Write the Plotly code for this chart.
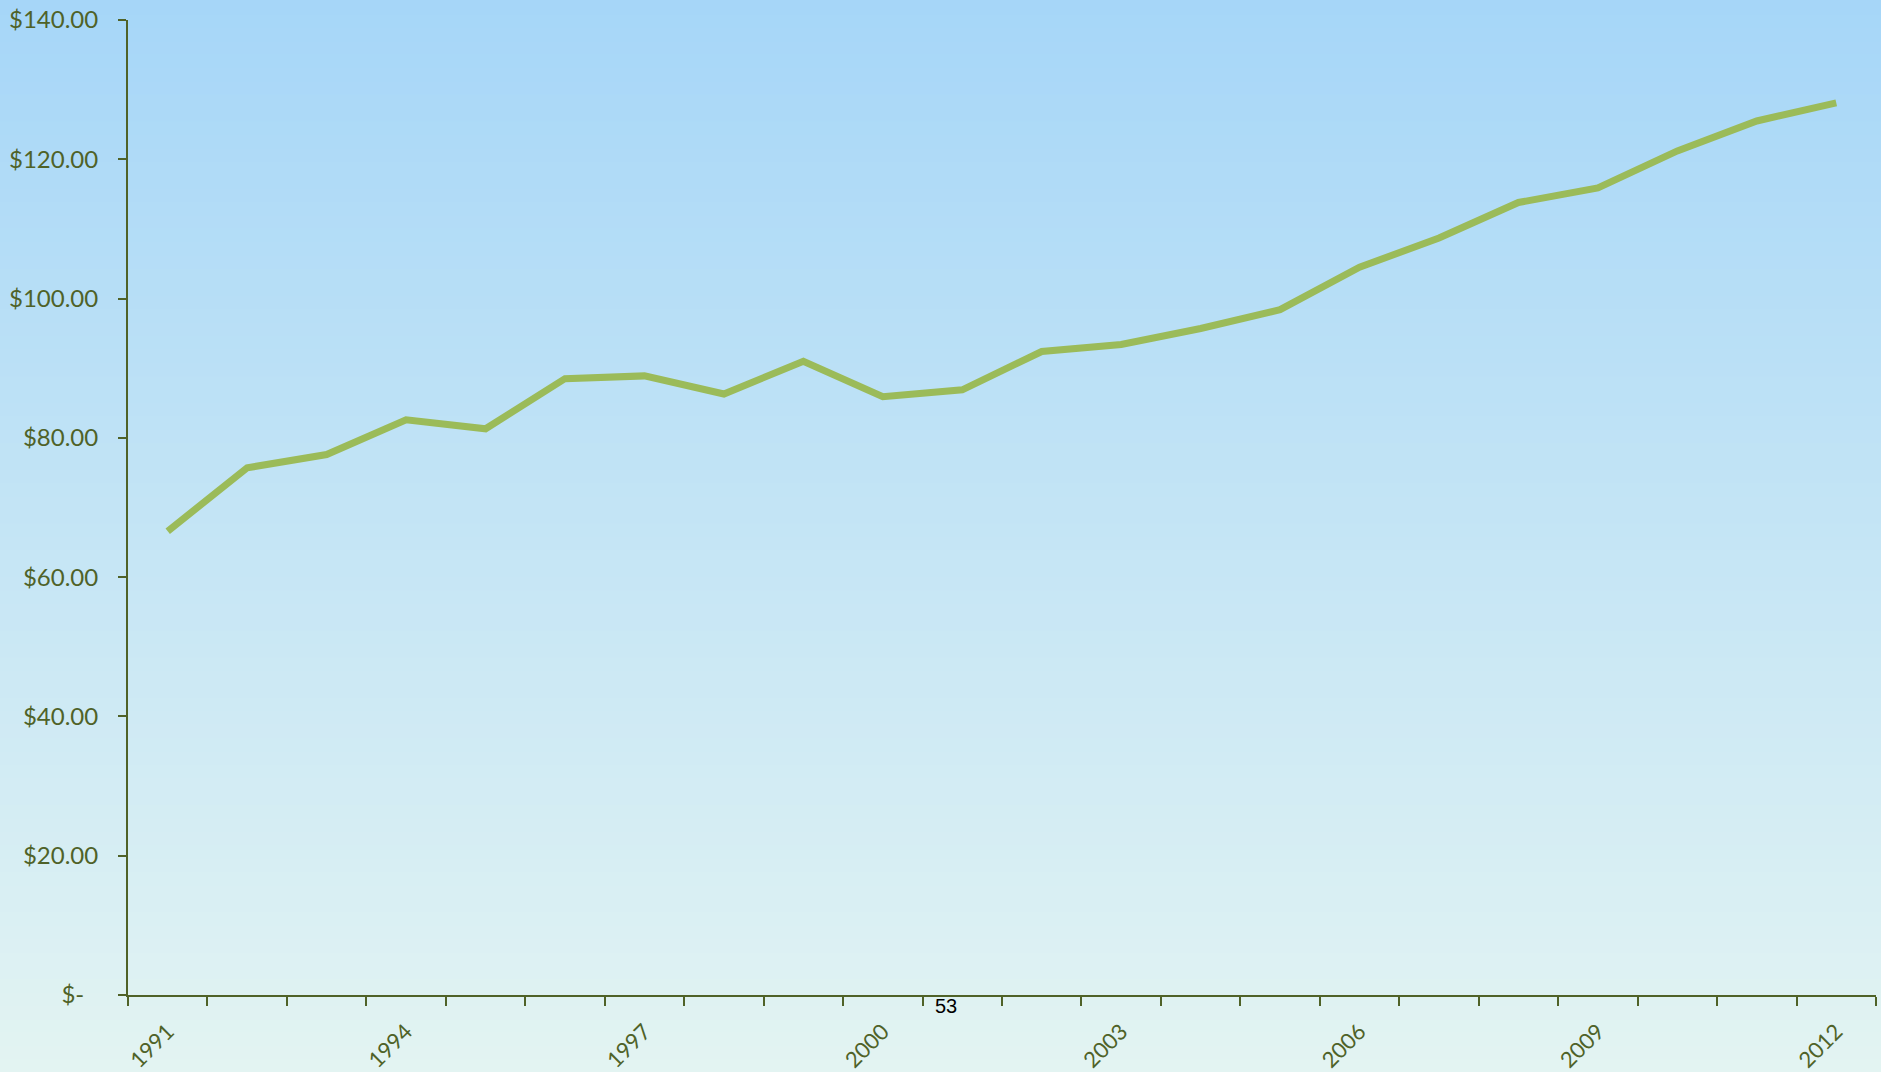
import plotly.graph_objects as go

years = list(range(1991, 2013))
prices = [66.6, 75.7, 77.6, 82.6, 81.3, 88.5, 88.9, 86.3, 91.0, 85.9, 86.9,
          92.4, 93.4, 95.7, 98.4, 104.5, 108.7, 113.8, 115.9, 121.2, 125.5, 128.1]
x_tick_years = [1991, 1994, 1997, 2000, 2003, 2006, 2009, 2012]
y_tick_vals = [0, 20, 40, 60, 80, 100, 120, 140]
y_tick_text = ["$-\u2007", "$20.00", "$40.00", "$60.00", "$80.00", "$100.00", "$120.00", "$140.00"]
page_number = "53"

W, H = 1881, 1072
ML, MR, MT, MB = 128, 5, 20, 77
axis_col = "#4F6228"
line_col = "#9BBB59"

fig = go.Figure()
fig.add_trace(go.Scatter(x=years, y=prices, mode="lines",
                         line=dict(color=line_col, width=7), hoverinfo="skip"))

# vertical gradient background (bands in paper coords covering whole figure)
plot_h = H - MT - MB
y_bottom = -MB / plot_h
y_top = 1 + MT / plot_h
top_rgb = (166, 214, 248)
bot_rgb = (227, 244, 242)
n = 80
shapes = []
for i in range(n):
    f0 = i / n
    f1 = (i + 1) / n
    t = (f0 + f1) / 2
    c = tuple(round(bot_rgb[k] + (top_rgb[k] - bot_rgb[k]) * t) for k in range(3))
    shapes.append(dict(type="rect", xref="paper", yref="paper",
                       x0=-ML / (W - ML - MR) - 0.01, x1=1 + MR / (W - ML - MR) + 0.01,
                       y0=y_bottom + (y_top - y_bottom) * f0 - 0.001,
                       y1=y_bottom + (y_top - y_bottom) * f1 + 0.001,
                       fillcolor="rgb(%d,%d,%d)" % c, line=dict(width=0), layer="below"))

fig.update_layout(
    width=W, height=H,
    margin=dict(l=ML, r=MR, t=MT, b=MB, autoexpand=False),
    paper_bgcolor="rgba(0,0,0,0)", plot_bgcolor="rgba(0,0,0,0)",
    showlegend=False, shapes=shapes,
    font=dict(family="Lato, 'Open Sans', sans-serif", color=axis_col),
    annotations=[dict(text=page_number, xref="paper", yref="paper",
                      x=(945.5 - ML) / (W - ML - MR), y=-11.5 / plot_h,
                      xanchor="center", yanchor="middle", showarrow=False,
                      font=dict(family="Liberation Sans, Arial", size=20, color="#000000"))],
)
fig.update_xaxes(
    range=[1990.5, 2012.5], tickmode="array", tickvals=x_tick_years,
    ticktext=[str(y) for y in x_tick_years], tickangle=-45,
    ticks="", showgrid=False, zeroline=False, automargin=False,
    showline=True, linecolor=axis_col, linewidth=2,
    tickfont=dict(size=22, color=axis_col), ticklabelstandoff=13,
    minor=dict(ticks="outside", ticklen=9, tickwidth=2, tickcolor=axis_col,
               tick0=1990.5, dtick=1, showgrid=False),
)
fig.update_yaxes(
    range=[0, 140], tickmode="array", tickvals=y_tick_vals, ticktext=y_tick_text,
    ticks="outside", ticklen=8, tickwidth=2, tickcolor=axis_col, automargin=False,
    showgrid=False, zeroline=False, showline=True, linecolor=axis_col, linewidth=2,
    tickfont=dict(size=24, color=axis_col), ticklabelstandoff=15,
)

fig.write_html("out.html", config={"displayModeBar": False},
               post_script="document.body.style.margin='0';document.body.style.overflow='hidden';")
